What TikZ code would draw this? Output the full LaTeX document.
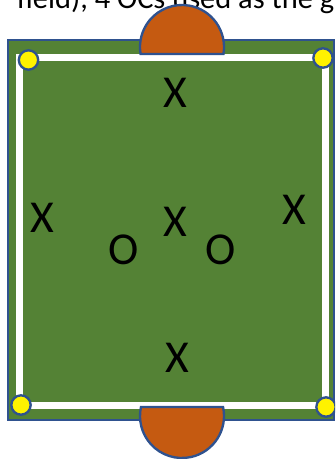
\documentclass[tikz,border=0pt]{standalone}
\usepackage{fontspec}
\setmainfont{Carlito}
\usetikzlibrary{positioning}
\definecolor{fieldgreen}{HTML}{548235}
\definecolor{edgeblue}{HTML}{2F528F}
\definecolor{goalorange}{HTML}{C55A11}
\tikzset{
    field box/.style={draw=edgeblue, fill=fieldgreen, line width=0.08cm},
    field line/.style={draw=white, line width=0.21cm},
    goal area/.style={draw=edgeblue, fill=goalorange, line width=0.07cm},
    corner cone/.style={
        circle,
        draw=edgeblue,
        fill=yellow,
        line width=0.07cm,
        minimum size=0.58cm,
        inner sep=0pt
    },
    player mark/.style={inner sep=0pt, font=\fontsize{39}{39}\selectfont},
    caption cut/.style={inner sep=0pt, anchor=base east, font=\fontsize{26}{26}\selectfont}
}
\begin{document}
\begin{tikzpicture}[x=0.03cm,y=-0.03cm]
    \useasboundingbox (0,0) rectangle (335,459);
    \clip (0,0) rectangle (335,459);

    % caption above, cut off by the page
    \node[caption cut] (cap) at (334.5,9) {field), 4 OCs used as the g};

    % pitch and lines
    \draw[field box] (8,40) rectangle (334,420);
    \draw[field line] (19.5,57.5) rectangle (325,405);

    % goals
    \draw[goal area] (182,47) ++(9.6:42) arc[start angle=9.6, end angle=-189.6, radius=42] -- cycle;
    \draw[goal area] (182,416) ++(-12.4:42) arc[start angle=-12.4, end angle=192.4, radius=42] -- cycle;

    % corner cones
    \node[corner cone] (tl) at (28.5,60) {};
    \node[corner cone] (tr) at (323,58) {};
    \node[corner cone] (bl) at (21,405) {};
    \node[corner cone] (br) at (326,407) {};

    % players
    \node[player mark] (xtop) at (175,93) {X};
    \node[player mark] (xleft) at (42,218) {X};
    \node[player mark] (xmid) at (175,222) {X};
    \node[player mark] (xright) at (294,210) {X};
    \node[player mark] (oleft) at (124,250) {O};
    \node[player mark] (oright) at (221,250) {O};
    \node[player mark] (xbot) at (177,358) {X};
\end{tikzpicture}
\end{document}
